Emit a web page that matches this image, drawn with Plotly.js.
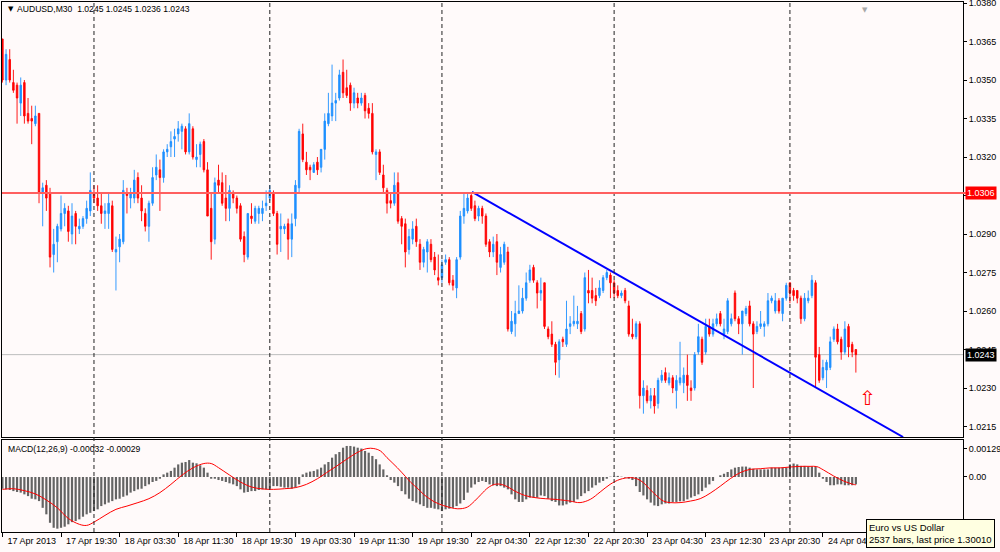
<!DOCTYPE html>
<html>
<head>
<meta charset="utf-8">
<script src="https://cdn.plot.ly/plotly-3.0.1.min.js"></script>
<style>html,body{margin:0;padding:0;background:#FFFAFA;}#chart{width:1000px;height:552px;}</style>
</head>
<body>
<div id="chart"></div>
<script>
// ---------- DATA ----------
const symbolTitle = "AUDUSD,M30";
const titlePrices = "1.0245 1.0245 1.0236 1.0243";
const sessions = [["2013-04-17T11:30","2013-04-19T23:00"],["2013-04-22T00:30","2013-04-24T09:00"]];
const tickLabels = ["17 Apr 2013","17 Apr 19:30","18 Apr 03:30","18 Apr 11:30","18 Apr 19:30","19 Apr 03:30","19 Apr 11:30","19 Apr 19:30","22 Apr 04:30","22 Apr 12:30","22 Apr 20:30","23 Apr 04:30","23 Apr 12:30","23 Apr 20:30","24 Apr 04:30"];
const tickEvery = 16;

const opens = [
1.0366,1.0350,1.0358,1.0349,1.0348,1.0341,1.0349,1.0337,1.0335,1.0333,
1.0337,1.0306,1.0309,1.0306,1.0282,1.0287,1.0292,1.0298,1.0299,1.0290,
1.0298,1.0292,1.0293,1.0296,1.0299,1.0306,1.0304,1.0301,1.0298,1.0298,
1.0301,1.0283,1.0285,1.0287,1.0306,1.0304,1.0304,1.0312,1.0304,1.0298,
1.0293,1.0302,1.0313,1.0315,1.0312,1.0322,1.0324,1.0327,1.0329,1.0330,
1.0331,1.0322,1.0331,1.0319,1.0321,1.0326,1.0315,1.0300,1.0288,1.0311,
1.0310,1.0304,1.0300,1.0306,1.0304,1.0301,1.0289,1.0281,1.0297,1.0295,
1.0298,1.0298,1.0301,1.0304,1.0306,1.0298,1.0292,1.0292,1.0294,1.0288,
1.0296,1.0308,1.0329,1.0318,1.0316,1.0314,1.0318,1.0316,1.0323,1.0333,
1.0336,1.0341,1.0343,1.0353,1.0347,1.0348,1.0341,1.0343,1.0341,1.0344,
1.0339,1.0337,1.0321,1.0322,1.0313,1.0307,1.0303,1.0302,1.0310,1.0296,
1.0294,1.0284,1.0288,1.0293,1.0286,1.0279,1.0283,1.0286,1.0281,1.0273,
1.0273,1.0279,1.0280,1.0272,1.0269,1.0281,1.0297,1.0299,1.0305,1.0301,
1.0297,1.0300,1.0297,1.0287,1.0283,1.0287,1.0277,1.0279,1.0283,1.0252,
1.0255,1.0259,1.0260,1.0265,1.0272,1.0277,1.0271,1.0267,1.0271,1.0253,
1.0251,1.0247,1.0241,1.0249,1.0247,1.0254,1.0255,1.0255,1.0259,1.0253,
1.0268,1.0268,1.0266,1.0266,1.0268,1.0273,1.0274,1.0271,1.0268,1.0266,
1.0268,1.0262,1.0251,1.0250,1.0255,1.0227,1.0229,1.0225,1.0227,1.0224,
1.0233,1.0236,1.0232,1.0234,1.0229,1.0232,1.0232,1.0235,1.0230,1.0230,
1.0244,1.0249,1.0244,1.0254,1.0251,1.0255,1.0259,1.0251,1.0252,1.0255,
1.0267,1.0257,1.0255,1.0259,1.0262,1.0255,1.0252,1.0254,
1.0254,1.0255,1.0264,1.0260,1.0264,1.0259,1.0265,1.0271,1.0268,1.0268,
1.0265,1.0257,1.0264,1.0266,1.0271,1.0243,1.0234,1.0237,1.0238,1.0249,
1.0253,1.0249,1.0244,1.0254,1.0247,1.0245];
const highs = [
1.0366,1.0362,1.0362,1.0354,1.0349,1.0351,1.0350,1.0343,1.0340,1.0340,
1.0337,1.0310,1.0311,1.0308,1.0292,1.0294,1.0305,1.0302,1.0301,1.0302,
1.0299,1.0296,1.0297,1.0303,1.0314,1.0309,1.0309,1.0306,1.0302,1.0306,
1.0303,1.0289,1.0290,1.0311,1.0308,1.0308,1.0315,1.0314,1.0309,1.0300,
1.0303,1.0316,1.0321,1.0319,1.0323,1.0325,1.0330,1.0331,1.0334,1.0333,
1.0332,1.0337,1.0332,1.0325,1.0326,1.0327,1.0318,1.0306,1.0312,1.0317,
1.0314,1.0313,1.0309,1.0307,1.0305,1.0302,1.0291,1.0298,1.0302,1.0301,
1.0301,1.0303,1.0307,1.0309,1.0307,1.0299,1.0298,1.0294,1.0296,1.0298,
1.0311,1.0331,1.0333,1.0322,1.0317,1.0318,1.0320,1.0323,1.0337,1.0345,
1.0356,1.0345,1.0354,1.0358,1.0354,1.0349,1.0347,1.0345,1.0345,1.0345,
1.0341,1.0341,1.0323,1.0323,1.0317,1.0308,1.0306,1.0314,1.0314,1.0297,
1.0296,1.0292,1.0295,1.0296,1.0288,1.0285,1.0288,1.0288,1.0283,1.0282,
1.0280,1.0282,1.0281,1.0274,1.0281,1.0299,1.0306,1.0306,1.0306,1.0303,
1.0301,1.0301,1.0298,1.0288,1.0289,1.0290,1.0285,1.0287,1.0285,1.0260,
1.0264,1.0270,1.0269,1.0275,1.0278,1.0278,1.0272,1.0273,1.0271,1.0254,
1.0256,1.0248,1.0249,1.0250,1.0264,1.0258,1.0266,1.0262,1.0260,1.0275,
1.0276,1.0273,1.0269,1.0272,1.0274,1.0276,1.0275,1.0272,1.0270,1.0268,
1.0269,1.0264,1.0257,1.0256,1.0256,1.0233,1.0231,1.0230,1.0230,1.0234,
1.0237,1.0238,1.0236,1.0235,1.0235,1.0248,1.0238,1.0243,1.0233,1.0244,
1.0255,1.0250,1.0257,1.0257,1.0257,1.0259,1.0260,1.0257,1.0265,1.0259,
1.0268,1.0258,1.0260,1.0262,1.0264,1.0256,1.0256,1.0260,
1.0256,1.0267,1.0266,1.0267,1.0265,1.0265,1.0271,1.0271,1.0269,1.0268,
1.0266,1.0267,1.0268,1.0274,1.0272,1.0246,1.0241,1.0241,1.0250,1.0254,
1.0255,1.0250,1.0256,1.0255,1.0248,1.0245];
const lows = [
1.0349,1.0348,1.0349,1.0345,1.0333,1.0336,1.0333,1.0333,1.0325,1.0332,
1.0302,1.0293,1.0299,1.0277,1.0275,1.0279,1.0291,1.0293,1.0287,1.0286,
1.0286,1.0290,1.0292,1.0294,1.0297,1.0302,1.0299,1.0294,1.0292,1.0292,
1.0283,1.0268,1.0279,1.0286,1.0298,1.0300,1.0302,1.0302,1.0295,1.0291,
1.0287,1.0301,1.0311,1.0299,1.0310,1.0320,1.0320,1.0320,1.0326,1.0323,
1.0321,1.0321,1.0319,1.0316,1.0316,1.0314,1.0297,1.0280,1.0286,1.0306,
1.0301,1.0295,1.0295,1.0302,1.0298,1.0287,1.0279,1.0280,1.0294,1.0294,
1.0294,1.0295,1.0299,1.0303,1.0297,1.0282,1.0283,1.0290,1.0280,1.0281,
1.0293,1.0306,1.0318,1.0313,1.0311,1.0314,1.0313,1.0314,1.0319,1.0332,
1.0334,1.0334,1.0342,1.0343,1.0343,1.0338,1.0339,1.0339,1.0340,1.0335,
1.0335,1.0321,1.0311,1.0313,1.0306,1.0298,1.0300,1.0301,1.0294,1.0286,
1.0277,1.0282,1.0286,1.0285,1.0276,1.0277,1.0275,1.0279,1.0274,1.0270,
1.0271,1.0278,1.0270,1.0268,1.0265,1.0280,1.0294,1.0298,1.0299,1.0295,
1.0295,1.0294,1.0285,1.0281,1.0281,1.0274,1.0275,1.0278,1.0252,1.0251,
1.0250,1.0259,1.0259,1.0264,1.0271,1.0271,1.0261,1.0264,1.0253,1.0249,
1.0246,1.0235,1.0234,1.0246,1.0246,1.0251,1.0254,1.0253,1.0251,1.0252,
1.0263,1.0263,1.0262,1.0265,1.0267,1.0272,1.0265,1.0265,1.0265,1.0265,
1.0263,1.0250,1.0249,1.0249,1.0222,1.0220,1.0224,1.0222,1.0220,1.0222,
1.0232,1.0232,1.0231,1.0228,1.0222,1.0231,1.0228,1.0225,1.0225,1.0229,
1.0243,1.0239,1.0243,1.0250,1.0250,1.0254,1.0254,1.0249,1.0251,1.0254,
1.0256,1.0251,1.0243,1.0258,1.0254,1.0230,1.0251,1.0253,
1.0250,1.0254,1.0263,1.0259,1.0259,1.0256,1.0264,1.0263,1.0264,1.0263,
1.0255,1.0256,1.0263,1.0265,1.0230,1.0232,1.0233,1.0230,1.0237,1.0248,
1.0247,1.0241,1.0243,1.0242,1.0242,1.0236];
const closes = [
1.0350,1.0360,1.0350,1.0346,1.0343,1.0348,1.0336,1.0334,1.0334,1.0336,
1.0306,1.0308,1.0304,1.0281,1.0286,1.0293,1.0298,1.0300,1.0291,1.0297,
1.0293,1.0293,1.0296,1.0300,1.0307,1.0304,1.0301,1.0298,1.0299,1.0302,
1.0284,1.0284,1.0288,1.0307,1.0305,1.0306,1.0311,1.0304,1.0299,1.0293,
1.0302,1.0312,1.0316,1.0312,1.0322,1.0323,1.0326,1.0328,1.0331,1.0332,
1.0322,1.0333,1.0320,1.0320,1.0325,1.0315,1.0297,1.0287,1.0310,1.0309,
1.0302,1.0300,1.0307,1.0304,1.0300,1.0288,1.0282,1.0298,1.0296,1.0300,
1.0300,1.0300,1.0302,1.0307,1.0298,1.0286,1.0293,1.0293,1.0288,1.0294,
1.0309,1.0330,1.0319,1.0315,1.0315,1.0317,1.0315,1.0323,1.0334,1.0337,
1.0341,1.0342,1.0352,1.0345,1.0344,1.0341,1.0345,1.0341,1.0343,1.0338,
1.0337,1.0322,1.0322,1.0314,1.0308,1.0302,1.0302,1.0309,1.0295,1.0293,
1.0283,1.0289,1.0292,1.0287,1.0279,1.0284,1.0287,1.0280,1.0276,1.0272,
1.0278,1.0280,1.0271,1.0270,1.0280,1.0297,1.0300,1.0304,1.0300,1.0296,
1.0300,1.0297,1.0286,1.0283,1.0286,1.0279,1.0282,1.0286,1.0253,1.0256,
1.0259,1.0260,1.0265,1.0271,1.0276,1.0272,1.0267,1.0268,1.0254,1.0250,
1.0247,1.0240,1.0248,1.0248,1.0253,1.0255,1.0256,1.0256,1.0252,1.0273,
1.0267,1.0265,1.0264,1.0269,1.0273,1.0275,1.0271,1.0267,1.0266,1.0267,
1.0264,1.0251,1.0250,1.0255,1.0227,1.0230,1.0225,1.0227,1.0223,1.0233,
1.0235,1.0233,1.0234,1.0230,1.0233,1.0234,1.0235,1.0231,1.0229,1.0243,
1.0250,1.0240,1.0254,1.0251,1.0255,1.0257,1.0255,1.0253,1.0264,1.0257,
1.0257,1.0255,1.0260,1.0261,1.0255,1.0251,1.0254,1.0255,
1.0255,1.0264,1.0265,1.0264,1.0260,1.0265,1.0270,1.0267,1.0266,1.0265,
1.0257,1.0265,1.0265,1.0272,1.0242,1.0233,1.0238,1.0240,1.0248,1.0253,
1.0248,1.0244,1.0253,1.0246,1.0244,1.0243];

// MACD main (histogram), in units of 0.0001
const macdMainPips = [
-5.4,-5.7,-6.0,-6.5,-6.9,-7.2,-8.0,-8.8,-10.0,-10.3,
-11.1,-14.2,-17.2,-21.1,-23.4,-23.8,-23.4,-22.9,-21.8,-20.8,
-20.3,-19.5,-18.3,-17.2,-16.5,-15.7,-14.9,-13.4,-12.6,-11.8,
-11.1,-10.3,-10.0,-9.1,-8.5,-7.2,-6.5,-5.7,-5.4,-4.2,
-3.4,-2.3,-1.8,-0.8,1.2,2.0,2.8,4.3,5.8,6.6,
6.9,7.8,6.6,6.3,5.4,4.3,2.0,-0.8,-0.8,-1.4,
-1.8,-2.3,-2.9,-3.4,-4.2,-5.7,-7.2,-6.9,-6.5,-6.5,
-6.0,-5.7,-5.7,-5.4,-4.2,-4.2,-4.5,-4.9,-4.9,
-5.4,-4.9,-3.4,1.2,2.0,2.5,2.8,3.5,4.3,5.8,
6.9,8.9,10.5,11.5,13.5,14.3,14.3,14.0,13.5,13.1,
12.0,11.2,9.7,8.2,5.8,3.5,0.8,-1.4,-2.6,-4.2,
-6.5,-8.0,-10.0,-11.1,-11.8,-12.6,-13.4,-14.2,-14.2,-14.6,
-14.9,-15.7,-14.9,-14.6,-14.2,-13.4,-12.2,-10.6,-7.2,-4.9,
-3.4,-2.3,-1.8,-2.3,-3.4,-3.8,-4.2,-4.2,-4.9,-5.7,
-8.0,-10.3,-11.5,-11.5,-10.3,-9.5,-9.5,-9.5,-8.5,-8.8,
-10.0,-11.1,-11.5,-13.1,-13.1,-12.6,
-11.8,-11.5,-10.3,-8.8,-7.5,-6.5,-4.9,-3.8,-2.6,-1.8,
-0.8,0.15,0.5,0.5,0.15,-0.3,-0.8,-1.4,-4.2,-6.9,
-8.5,-10.3,-11.8,-13.1,-13.4,-12.6,-12.2,-12.2,-11.5,-11.5,
-11.2,-11.1,-10.3,-9.5,-8.8,-8.0,-6.5,-4.9,-3.4,-1.8,
0,0.8,1.5,2.3,3.5,4.3,4.6,4.8,4.8,4.3,
3.8,3.5,3.5,3.5,3.5,4.3,4.3,4.3,4.3,4.3,
5.8,6.2,5.8,5.1,5.1,4.8,4.8,4.8,2.0,-0.8,
-2.3,-3.8,-3.8,-3.4,-3.4,-3.8,-3.8,-3.8,-3.4];
// MACD signal line, read at these bar positions, in units of 0.0001
const signalBars = [0,3,6,9,12,15,18,21,23,25,28,31,34,37,40,43,46,49,52,55,57,59,62,65,68,71,74,77,80,83,86,88.5,91.3,94,96.8,99.5,101.4,103.2,105,107.8,110,111.5,113.5,115,118,120.5,123.4,125.2,127,128.9,130.7,132.6,134.4,136.2,138,139.9,142.6,145.4,148.2,150.9,153.7,155,157.7,160.5,163.2,165.9,168.6,171.4,173.2,175,176.8,178.7,180.5,182.3,185,187.8,190.5,193.2,196,198.7,201.4,204.1,206.9,209.6,212.3,215,217.8,220.5,222.3,224.2,226.9,229.6,232.3,233];
const signalPips = [-5.7,-5.4,-6.3,-7.8,-10.6,-14.2,-19.1,-21.8,-22.3,-20.8,-17.7,-14.9,-13.4,-11.8,-10.0,-7.2,-3.4,0.8,4.2,6.2,6.2,4.3,0.9,-2.3,-4.6,-5.5,-5.7,-5.4,-4.9,-3.4,-0.8,2.0,5.1,8.2,11.2,13.1,13.1,12.0,8.9,4.3,0.3,-2.5,-5.5,-8.0,-11.5,-13.2,-14.5,-14.6,-13.8,-11.1,-8.0,-4.9,-3.4,-3.4,-4.6,-6.5,-8.5,-9.5,-10.0,-10.3,-10.8,-11.1,-11.8,-10.3,-6.9,-3.4,-1.1,-0.3,-0.8,-2.6,-5.7,-8.8,-11.1,-11.8,-11.8,-11.1,-10.0,-7.5,-4.2,-0.8,2.0,3.5,3.8,4.2,4.2,4.6,4.9,4.9,4.8,3.2,0.5,-1.8,-3.4,-3.6];
const macdLabel = "MACD(12,26,9) -0.00032 -0.00029";

// chart objects
const levelLine = 1.0306;       // horizontal red line
const bidPrice = 1.0243;        // last bid
const trendBars = [128.2, 245.9];
const trendPrices = [1.03064, 1.02109];
const arrowBar = 236.3, arrowPrice = 1.0226;
const priceTicks = [1.0215,1.0230,1.0245,1.0260,1.0275,1.0290,1.0305,1.0320,1.0335,1.0350,1.0365,1.0380];
const macdTicks = [0.00129, 0];
const macdTickText = ["0.00129","0.00"];
const infoText = ["Euro vs US Dollar","2537 bars, last price 1.30010"];

// ---------- BUILD ----------
const times = [];
sessions.forEach(([a,b]) => {
  let t = Date.parse(a+":00Z"), e = Date.parse(b+":00Z");
  for (; t <= e; t += 1800000) times.push(new Date(t));
});
const idx = times.map((_, i) => i);
const separators = [];
for (let i = 1; i < times.length; i++) if (times[i].getUTCDate() !== times[i-1].getUTCDate()) separators.push(i);
const tickvals = tickLabels.map((_, k) => k * tickEvery);

const xRange = [-0.11, 262.25];
const yRange = [1.02109, 1.03804];
const y2Range = [-0.002534, 0.0017047];
const FONT = "Liberation Sans, Arial, sans-serif";

const traces = [
  {type:'candlestick', x: idx, open: opens, high: highs, low: lows, close: closes,
   xaxis:'x', yaxis:'y', whiskerwidth:0, hoverinfo:'skip',
   increasing:{line:{color:'#1E90FF', width:0.9}, fillcolor:'#1E90FF'},
   decreasing:{line:{color:'#FF0000', width:0.9}, fillcolor:'#FF0000'}},
  {type:'scatter', mode:'lines', x: trendBars, y: trendPrices, xaxis:'x', yaxis:'y',
   line:{color:'#0000FF', width:2}, hoverinfo:'skip'},
  {type:'bar', x: idx, y: macdMainPips.map(v => v/10000), xaxis:'x2', yaxis:'y2',
   marker:{color:'#646464', line:{width:0}}, width:0.6, hoverinfo:'skip'},
  {type:'scatter', mode:'lines', x: signalBars, y: signalPips.map(v => v/10000), xaxis:'x2', yaxis:'y2',
   line:{color:'#FF0000', width:1, shape:'spline', smoothing:1}, hoverinfo:'skip'}
];

const shapes = [];
separators.forEach(i => shapes.push({type:'line', xref:'x', yref:'paper', x0:i, x1:i, y0:0, y1:1,
  line:{color:'#222', width:1, dash:'4px,3px'}, layer:'above'}));
shapes.push({type:'line', xref:'paper', yref:'y', x0:0, x1:1.003, y0:levelLine, y1:levelLine,
  line:{color:'#FF5F5F', width:2}});
shapes.push({type:'line', xref:'paper', yref:'y', x0:0, x1:1, y0:bidPrice, y1:bidPrice,
  line:{color:'#BDBDBD', width:1}, layer:'below'});

const annotations = [
  {xref:'paper', yref:'paper', x:0.0045, y:0.9868, xanchor:'left', yanchor:'middle', showarrow:false,
   text:'▼', font:{family:'DejaVu Sans', size:7, color:'#000'}},
  {xref:'paper', yref:'paper', x:0.0135, y:0.9868, xanchor:'left', yanchor:'middle', showarrow:false,
   text: symbolTitle + "\u00a0\u00a0" + titlePrices,
   font:{family:FONT, size:8.6, color:'#000'}},
  {xref:'paper', yref:'paper', x:0.004, y:0.1566, xanchor:'left', yanchor:'middle', showarrow:false,
   text: macdLabel, font:{family:FONT, size:8.6, color:'#000'}},
  {xref:'paper', yref:'y', x:1, y:levelLine, xanchor:'left', yanchor:'middle', xshift:2, showarrow:false,
   text: levelLine.toFixed(4), bgcolor:'#FF0000', borderpad:1, font:{family:FONT, size:9, color:'#FFFFFF'}},
  {xref:'paper', yref:'y', x:1, y:bidPrice, xanchor:'left', yanchor:'middle', xshift:2, showarrow:false,
   text: bidPrice.toFixed(4), bgcolor:'#000000', borderpad:1, font:{family:FONT, size:9, color:'#FFFFFF'}},
  {xref:'x', yref:'y', x:arrowBar, y:arrowPrice, showarrow:false, text:'⇧',
   font:{family:'DejaVu Sans', size:20, color:'#FF0000'}},
  {xref:'paper', yref:'paper', x:0.898, y:0.996, xanchor:'center', yanchor:'top', showarrow:false, text:'▼',
   font:{family:'DejaVu Sans', size:7, color:'#A8A8A8'}},
  {xref:'paper', yref:'paper', x:0.899, y:0.0245, xanchor:'left', yanchor:'top', showarrow:false, align:'left',
   text: infoText.join('<br>'), bgcolor:'#FFFFE1', bordercolor:'#000', borderwidth:1, borderpad:2,
   font:{family:FONT, size:9.5, color:'#000'}}
];

const axisCommon = {showline:true, mirror:true, linecolor:'#000', linewidth:1, showgrid:false, zeroline:false, fixedrange:true};
const layout = {
  width:1000, height:552, margin:{l:2, r:37, t:2, b:20},
  paper_bgcolor:'#FFFAFA', plot_bgcolor:'#FFFAFA', showlegend:false, hovermode:false, dragmode:false,
  boxgap:0.42,
  font:{family:FONT, size:9, color:'#000'},
  xaxis: Object.assign({}, axisCommon, {domain:[0,1], range:xRange, anchor:'y', showticklabels:false, ticks:'', rangeslider:{visible:false}}),
  yaxis: Object.assign({}, axisCommon, {domain:[0.1792,1], range:yRange, anchor:'x', side:'right',
    tickvals: priceTicks, ticktext: priceTicks.map(v => v.toFixed(4)), ticks:'outside', ticklen:3, tickcolor:'#000',
    ticklabeloverflow:'allow', tickfont:{family:FONT, size:9, color:'#000'}}),
  xaxis2: Object.assign({}, axisCommon, {domain:[0,1], range:xRange, anchor:'y2', tickvals: tickvals, ticktext: tickLabels,
    ticks:'outside', ticklen:4, tickcolor:'#000', ticklabelposition:'outside right', ticklabelshift:4, tickangle:0,
    ticklabeloverflow:'allow', tickfont:{family:FONT, size:9, color:'#000'}}),
  yaxis2: Object.assign({}, axisCommon, {domain:[0,0.1736], range:y2Range, anchor:'x2', side:'right',
    tickvals: macdTicks, ticktext: macdTickText, ticks:'outside', ticklen:3, tickcolor:'#000',
    ticklabeloverflow:'allow', tickfont:{family:FONT, size:9, color:'#000'}}),
  shapes: shapes, annotations: annotations
};
Plotly.newPlot('chart', traces, layout, {staticPlot:true, displayModeBar:false});
</script>
</body>
</html>
